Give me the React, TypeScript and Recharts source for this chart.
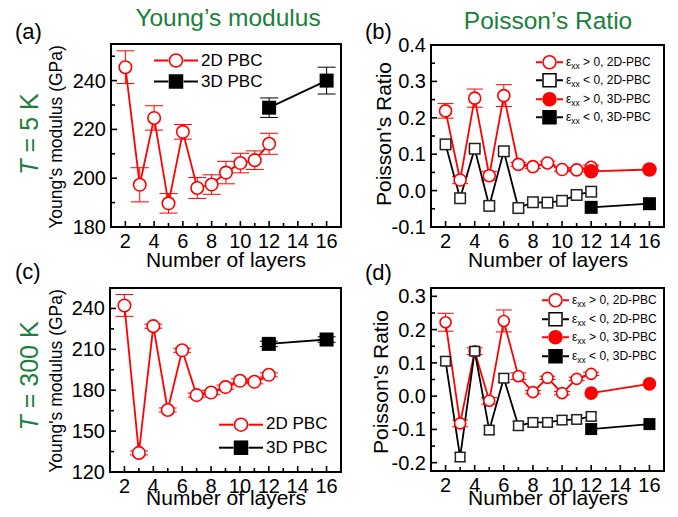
import React from 'react';
import { ComposedChart, Line, XAxis, YAxis, ErrorBar, Legend, ReferenceArea } from 'recharts';

const FONT = '"Liberation Sans", Arial, sans-serif';
const GREEN = '#1a7f3a';
const RED = '#ff0000';
const BLACK = '#000000';

// number of layers
const layers2D = [2, 3, 4, 5, 6, 7, 8, 9, 10, 11, 12];
const layers3D = [12, 16];
const xTicks = [2, 3, 4, 5, 6, 7, 8, 9, 10, 11, 12, 13, 14, 15, 16];

// (a) Young's modulus, T = 5 K
const ym5K2D = [245.5, 197.3, 224.7, 189.7, 219, 196, 197.4, 202.3, 206.2, 207.4, 214.1];
const ym5K2DErr = [6.7, 7, 5, 4, 3, 4.3, 4, 4.6, 4, 3.8, 4.3];
const ym5K3D = [228.9, 240];
const ym5K3DErr = [4, 5.5];
const ym5KTicks = [180, 190, 200, 210, 220, 230, 240, 250];
const ym5KLabels = [180, 200, 220, 240];

// (b) Poisson's ratio, T = 5 K
const pr5KPos2D = [0.219, 0.029, 0.254, 0.041, 0.261, 0.072, 0.066, 0.076, 0.058, 0.057, 0.064];
const pr5KPos2DErr = [0.02, 0.01, 0.025, 0.012, 0.03, 0.005, 0.005, 0.005, 0.005, 0.005, 0.006];
const pr5KNeg2D = [0.127, -0.021, 0.115, -0.042, 0.108, -0.048, -0.032, -0.033, -0.028, -0.012, -0.003];
const pr5KNeg2DErr = [0.008, 0.008, 0.008, 0.008, 0.008, 0.008, 0.008, 0.008, 0.008, 0.008, 0.008];
const pr5KPos3D = [0.053, 0.058];
const pr5KNeg3D = [-0.046, -0.036];
const pr5KTicks = [-0.1, -0.05, 0, 0.05, 0.1, 0.15, 0.2, 0.25, 0.3, 0.35, 0.4];
const pr5KLabels = [-0.1, 0, 0.1, 0.2, 0.3, 0.4];

// (c) Young's modulus, T = 300 K
const ym300K2D = [242.2, 134, 227, 165.5, 209.3, 176.4, 178.3, 182.3, 186.9, 186.2, 191.3];
const ym300K2DErr = [8, 1.5, 1.5, 1.5, 1.5, 1.5, 1.5, 1.5, 1.5, 1.5, 1.5];
const ym300K3D = [214, 217.2];
const ym300K3DErr = [2, 2];
const ym300KTicks = [120, 135, 150, 165, 180, 195, 210, 225, 240];
const ym300KLabels = [120, 150, 180, 210, 240];

// (d) Poisson's ratio, T = 300 K
const pr300KPos2D = [0.222, -0.082, 0.135, -0.014, 0.226, 0.06, 0.012, 0.055, 0.009, 0.052, 0.067];
const pr300KPos2DErr = [0.027, 0.01, 0.01, 0.01, 0.033, 0.01, 0.005, 0.005, 0.005, 0.005, 0.005];
const pr300KNeg2D = [0.105, -0.183, 0.135, -0.102, 0.054, -0.089, -0.079, -0.079, -0.072, -0.07, -0.061];
const pr300KNeg2DErr = [0.013, 0.013, 0.013, 0.013, 0.013, 0.013, 0.013, 0.013, 0.013, 0.013, 0.013];
const pr300KPos3D = [0.009, 0.037];
const pr300KNeg3D = [-0.099, -0.084];
const pr300KTicks = [-0.2, -0.15, -0.1, -0.05, 0, 0.05, 0.1, 0.15, 0.2, 0.25, 0.3];
const pr300KLabels = [-0.2, -0.1, 0, 0.1, 0.2, 0.3];

const rows = (xs: number[], ys: number[], errs?: number[]) =>
  xs.map((x, i) => ({ x, y: ys[i], err: errs ? errs[i] : 0 }));

type Kind = 'openCircle' | 'filledCircle' | 'openSquare' | 'filledSquare';

function Marker({ kind, cx, cy, size, color }: { kind: Kind; cx: number; cy: number; size: number; color: string }) {
  if (kind === 'openCircle' || kind === 'filledCircle') {
    return (
      <circle cx={cx} cy={cy} r={size / 2} fill={kind === 'filledCircle' ? color : '#fff'}
        stroke={color} strokeWidth={1.6} />
    );
  }
  return (
    <rect x={cx - size / 2} y={cy - size / 2} width={size} height={size}
      fill={kind === 'filledSquare' ? color : '#fff'} stroke={color} strokeWidth={1.5} />
  );
}

const dotOf = (kind: Kind, size: number, color: string) => (p: any) => {
  if (p.cx == null || p.cy == null) return <g key={p.index} />;
  return <Marker key={p.index} kind={kind} cx={p.cx} cy={p.cy} size={size} color={color} />;
};

// stable renderers, made once
const dotYmOpen = dotOf('openCircle', 12.5, RED);
const dotYmFilled = dotOf('filledSquare', 12.5, BLACK);
const dotPr5K = {
  pos2D: dotOf('openCircle', 12, RED),
  neg2D: dotOf('openSquare', 10.5, '#222'),
  pos3D: dotOf('filledCircle', 13, RED),
  neg3D: dotOf('filledSquare', 11.5, BLACK),
};
const dotPr300K = {
  pos2D: dotOf('openCircle', 11, RED),
  neg2D: dotOf('openSquare', 9.5, '#222'),
  pos3D: dotOf('filledCircle', 12, RED),
  neg3D: dotOf('filledSquare', 10.5, BLACK),
};

function XTick(props: any) {
  const { x, y, payload } = props;
  const major = payload.value % 2 === 0;
  return (
    <g>
      <line x1={x} x2={x} y1={y} y2={y - (major ? 6 : 4)} stroke="#000" strokeWidth={1.6} />
      {major && (
        <text x={x} y={y + 20.5} textAnchor="middle" fontSize={20} fontFamily={FONT} fill="#000">
          {payload.value}
        </text>
      )}
    </g>
  );
}

const yTickOf = (labels: number[], digits: number) => (props: any) => {
  const { x, y, payload } = props;
  const major = labels.some((v) => Math.abs(v - payload.value) < 1e-9);
  return (
    <g>
      <line x1={x} x2={x + (major ? 6 : 4)} y1={y} y2={y} stroke="#000" strokeWidth={1.6} />
      {major && (
        <text x={x - 5} y={y + 7} textAnchor="end" fontSize={20} fontFamily={FONT} fill="#000">
          {payload.value.toFixed(digits)}
        </text>
      )}
    </g>
  );
};

const yTick5KYm = yTickOf(ym5KLabels, 0);
const yTick300KYm = yTickOf(ym300KLabels, 0);
const yTick5KPr = yTickOf(pr5KLabels, 1);
const yTick300KPr = yTickOf(pr300KLabels, 1);

interface LegendItem {
  kind: Kind;
  color: string;
  label: React.ReactNode;
}

function LegendBox({ items, lineW, rowH, fontSize, markerSize, gap }: {
  items: LegendItem[]; lineW: number; rowH: number; fontSize: number; markerSize: number; gap: number;
}) {
  return (
    <div style={{ fontFamily: FONT, fontSize, color: '#000', whiteSpace: 'nowrap' }}>
      {items.map((it, i) => (
        <div key={i} style={{ display: 'flex', alignItems: 'center', height: rowH }}>
          <svg width={lineW} height={rowH} style={{ display: 'block' }}>
            <line x1={0} x2={lineW / 2 - markerSize / 2 - gap} y1={rowH / 2} y2={rowH / 2} stroke={it.color} strokeWidth={2} />
            <line x1={lineW / 2 + markerSize / 2 + gap} x2={lineW} y1={rowH / 2} y2={rowH / 2} stroke={it.color} strokeWidth={2} />
            <Marker kind={it.kind} cx={lineW / 2} cy={rowH / 2} size={markerSize} color={it.color} />
          </svg>
          <span style={{ marginLeft: 3 }}>{it.label}</span>
        </div>
      ))}
    </div>
  );
}

const eps = (rest: string) => (
  <span>ε<sub style={{ fontSize: '0.7em', verticalAlign: '-0.3em', lineHeight: 0 }}>xx</sub>{rest}</span>
);

const prLegend: LegendItem[] = [
  { kind: 'openCircle', color: RED, label: eps(' > 0, 2D-PBC') },
  { kind: 'openSquare', color: BLACK, label: eps(' < 0, 2D-PBC') },
  { kind: 'filledCircle', color: RED, label: eps(' > 0, 3D-PBC') },
  { kind: 'filledSquare', color: BLACK, label: eps(' < 0, 3D-PBC') },
];

const ymLegend: LegendItem[] = [
  { kind: 'openCircle', color: RED, label: '2D PBC' },
  { kind: 'filledSquare', color: BLACK, label: '3D PBC' },
];

const ymLegendTop = () => <LegendBox items={ymLegend} lineW={44} rowH={21} fontSize={17} markerSize={13} gap={1} />;
const ymLegendBottom = () => <LegendBox items={ymLegend} lineW={44} rowH={23.4} fontSize={17} markerSize={13} gap={1} />;
const prLegendContent = () => <LegendBox items={prLegend} lineW={27} rowH={18.5} fontSize={12} markerSize={13} gap={1} />;

const frame = { stroke: '#000', strokeWidth: 2 };

function YoungPanel({ data2D, err2D, data3D, err3D, domain, ticks, yTick, legendPos, legend, top, bottom }: any) {
  const r2 = rows(layers2D, data2D, err2D);
  const r3 = rows(layers3D, data3D, err3D);
  return (
    <ComposedChart width={345} height={top === 0 ? 260 : 257}
      margin={{ top: top === 0 ? 44 : 28, right: 4, left: top === 0 ? 61 : 60, bottom }}>
      <Line data={r2} dataKey="y" stroke="none" dot={false} isAnimationActive={false} legendType="none">
        <ErrorBar dataKey="err" direction="y" width={9} stroke={RED} strokeWidth={1} />
      </Line>
      <Line data={r3} dataKey="y" stroke="none" dot={false} isAnimationActive={false} legendType="none">
        <ErrorBar dataKey="err" direction="y" width={9} stroke={BLACK} strokeWidth={1} />
      </Line>
      <Line data={r2} dataKey="y" stroke={RED} strokeWidth={1.8} dot={dotYmOpen} isAnimationActive={false} />
      <Line data={r3} dataKey="y" stroke={BLACK} strokeWidth={1.8} dot={dotYmFilled} isAnimationActive={false} />
      <ReferenceArea x1={1} x2={17} y1={domain[0]} y2={domain[1]} fill="none" stroke="#000" strokeWidth={2}
        ifOverflow="visible" zIndex={2500} />
      <XAxis type="number" dataKey="x" domain={[1, 17]} ticks={xTicks} interval={0}
        tickSize={0} tickMargin={0} axisLine={frame} tick={XTick} height={33} zIndex={2500} />
      <YAxis type="number" domain={domain} ticks={ticks} interval={0}
        tickSize={0} tickMargin={0} axisLine={frame} tick={yTick} width={50} zIndex={2500} />
      <Legend layout="vertical" align="center" verticalAlign="middle"
        wrapperStyle={{ left: legendPos[0], top: legendPos[1], width: 'auto', height: 'auto' }}
        content={legend} />
    </ComposedChart>
  );
}

function PoissonPanel({ pos2D, pos2DErr, neg2D, neg2DErr, pos3D, neg3D, domain, ticks, yTick, dots, legendPos, top, bottom, xh }: any) {
  const posRows = rows(layers2D, pos2D, pos2DErr);
  const negRows = rows(layers2D, neg2D, neg2DErr);
  return (
    <ComposedChart width={333} height={top === 0 ? 260 : 257}
      margin={{ top: top === 0 ? 45 : 28, right: 14, left: 36, bottom }}>
      <Line data={posRows} dataKey="y" stroke="none" dot={false} isAnimationActive={false} legendType="none">
        <ErrorBar dataKey="err" direction="y" width={8} stroke={RED} strokeWidth={1} />
      </Line>
      <Line data={posRows} dataKey="y" stroke={RED} strokeWidth={1.8} dot={dots.pos2D} isAnimationActive={false} />
      <Line data={negRows} dataKey="y" stroke={BLACK} strokeWidth={1.8} dot={dots.neg2D} isAnimationActive={false} />
      <Line data={negRows} dataKey="y" stroke="none" dot={false} isAnimationActive={false} legendType="none">
        <ErrorBar dataKey="err" direction="y" width={6} stroke="#333" strokeWidth={0.9} />
      </Line>
      <Line data={rows(layers3D, pos3D)} dataKey="y" stroke={RED} strokeWidth={1.8} dot={dots.pos3D} isAnimationActive={false} />
      <Line data={rows(layers3D, neg3D)} dataKey="y" stroke={BLACK} strokeWidth={1.8} dot={dots.neg3D} isAnimationActive={false} />
      <ReferenceArea x1={1} x2={17} y1={domain[0]} y2={domain[1]} fill="none" stroke="#000" strokeWidth={2}
        ifOverflow="visible" zIndex={2500} />
      <XAxis type="number" dataKey="x" domain={[1, 17]} ticks={xTicks} interval={0}
        tickSize={0} tickMargin={0} axisLine={frame} tick={XTick} height={xh} zIndex={2500} />
      <YAxis type="number" domain={domain} ticks={ticks} interval={0}
        tickSize={0} tickMargin={0} axisLine={frame} tick={yTick} width={50} zIndex={2500} />
      <Legend layout="vertical" align="center" verticalAlign="middle"
        wrapperStyle={{ left: legendPos[0], top: legendPos[1], width: 'auto', height: 'auto' }}
        content={prLegendContent} />
    </ComposedChart>
  );
}

// small free-standing text pieces (titles, panel letters, axis titles)
function Txt({ x, y, size, color = '#000', rotate = false, anchor = 'middle', children }: any) {
  return (
    <svg width={1} height={1} style={{ position: 'absolute', left: x, top: y, overflow: 'visible' }}>
      <text x={0} y={0} transform={rotate ? 'rotate(-90)' : undefined} textAnchor={anchor}
        fontSize={size} fill={color} fontFamily={FONT}>
        {children}
      </text>
    </svg>
  );
}

export default function App() {
  return (
    <div style={{ position: 'relative', width: 678, height: 517, margin: -8, fontFamily: FONT }}>
      <div style={{ position: 'absolute', left: 0, top: 0 }}>
        <YoungPanel data2D={ym5K2D} err2D={ym5K2DErr} data3D={ym5K3D} err3D={ym5K3DErr}
          domain={[180, 255]} ticks={ym5KTicks} yTick={yTick5KYm} legendPos={[154, 50]} legend={ymLegendTop}
          top={0} bottom={0} />
      </div>
      <div style={{ position: 'absolute', left: 345, top: 0 }}>
        <PoissonPanel pos2D={pr5KPos2D} pos2DErr={pr5KPos2DErr} neg2D={pr5KNeg2D} neg2DErr={pr5KNeg2DErr}
          pos3D={pr5KPos3D} neg3D={pr5KNeg3D} domain={[-0.1, 0.4]} ticks={pr5KTicks} yTick={yTick5KPr}
          dots={dotPr5K} legendPos={[191, 52.5]} top={0} bottom={0} xh={33} />
      </div>
      <div style={{ position: 'absolute', left: 0, top: 260 }}>
        <YoungPanel data2D={ym300K2D} err2D={ym300K2DErr} data3D={ym300K3D} err3D={ym300K3DErr}
          domain={[120, 255]} ticks={ym300KTicks} yTick={yTick300KYm} legendPos={[219, 152.6]} legend={ymLegendBottom}
          top={260} bottom={12} />
      </div>
      <div style={{ position: 'absolute', left: 345, top: 260 }}>
        <PoissonPanel pos2D={pr300KPos2D} pos2DErr={pr300KPos2DErr} neg2D={pr300KNeg2D} neg2DErr={pr300KNeg2DErr}
          pos3D={pr300KPos3D} neg3D={pr300KNeg3D} domain={[-0.225, 0.325]} ticks={pr300KTicks} yTick={yTick300KPr}
          dots={dotPr300K} legendPos={[197, 31]} top={260} bottom={12} xh={34} />
      </div>

      <Txt x={228} y={26} size={24.5} color={GREEN}>Young’s modulus</Txt>
      <Txt x={548} y={29} size={24.5} color={GREEN}>Poisson’s Ratio</Txt>
      <Txt x={15} y={39} size={22} anchor="start">(a)</Txt>
      <Txt x={365} y={39} size={22} anchor="start">(b)</Txt>
      <Txt x={15} y={279} size={22} anchor="start">(c)</Txt>
      <Txt x={365} y={280} size={22} anchor="start">(d)</Txt>
      <Txt x={38} y={134} size={25} color={GREEN} rotate>
        <tspan fontStyle="italic">T</tspan> = 5 K
      </Txt>
      <Txt x={38} y={375.5} size={25} color={GREEN} rotate>
        <tspan fontStyle="italic">T</tspan> = 300 K
      </Txt>
      <Txt x={62} y={136.5} size={17.5} rotate>Young's modulus (GPa)</Txt>
      <Txt x={62} y={380.5} size={17.5} rotate>Young's modulus (GPa)</Txt>
      <Txt x={391} y={134} size={21} rotate>Poisson's Ratio</Txt>
      <Txt x={388} y={381.5} size={21} rotate>Poisson's Ratio</Txt>
      <Txt x={226} y={267} size={21}>Number of layers</Txt>
      <Txt x={547.5} y={267} size={21}>Number of layers</Txt>
      <Txt x={226} y={505} size={21}>Number of layers</Txt>
      <Txt x={547.5} y={505} size={21}>Number of layers</Txt>
    </div>
  );
}
